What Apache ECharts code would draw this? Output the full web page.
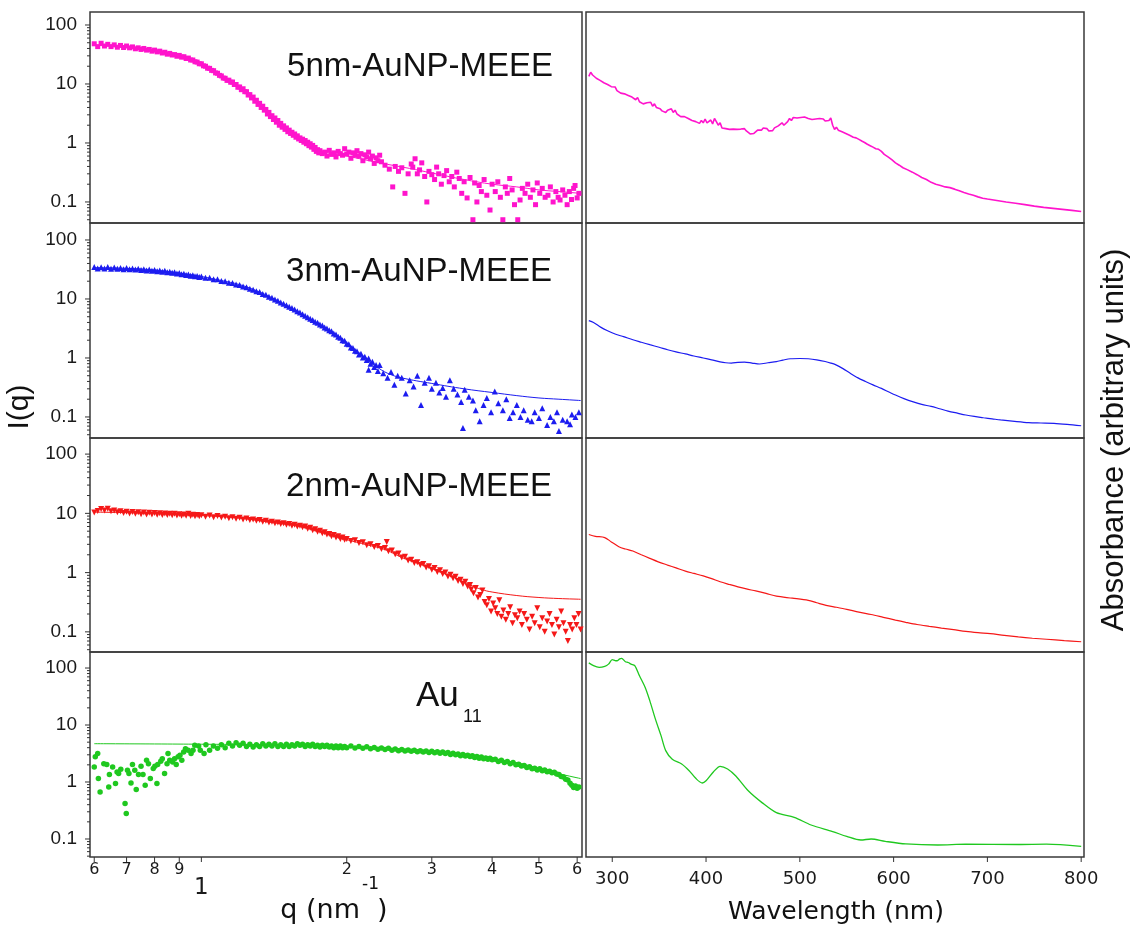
<!DOCTYPE html>
<html><head><meta charset="utf-8">
<script src="https://cdn.jsdelivr.net/npm/echarts@6/dist/echarts.min.js"></script>
<style>html,body{margin:0;padding:0;background:#fff;}#c{width:1130px;height:930px;}</style>
</head><body><div id="c"></div>
<script>
// ---------------- DATA ----------------
const panelTitles = ['5nm-AuNP-MEEE', '3nm-AuNP-MEEE', '2nm-AuNP-MEEE', 'Au'];
const au11Sub = '11';
const yMajorTicks = [0.1, 1, 10, 100];
const yTickLabels = ['0.1', '1', '10', '100'];
const yMinorTicks = [0.05,0.06,0.07,0.08,0.09,0.2,0.3,0.4,0.5,0.6,0.7,0.8,0.9,2,3,4,5,6,7,8,9,20,30,40,50,60,70,80,90];
const qTicks = [0.6, 0.7, 0.8, 0.9, 1, 2, 3, 4, 5, 6];
const qTickLabels = ['6', '7', '8', '9', '', '2', '3', '4', '5', '6'];
const qDecadeLabel = '1';
const wlTicks = [300, 400, 500, 600, 700, 800];
const wlTickLabels = ['300', '400', '500', '600', '700', '800'];
const xNameLeft = 'q (nm', xNameLeftSup = '-1', xNameLeftEnd = ')';
const xNameRight = 'Wavelength (nm)';
const yNameLeft = 'I(q)';
const yNameRight = 'Absorbance (arbitrary units)';

// SAXS 5 nm (q nm^-1, I)
const saxs5nm = [[0.60,48],[0.61,43],[0.62,49],[0.63,44],[0.64,47],[0.65,43],[0.66,46],[0.67,42],[0.68,45],[0.69,41.5],[0.70,44],[0.71,41],[0.72,42.5],[0.73,39.5],[0.74,41],[0.75,38.5],[0.76,40],[0.77,37.5],[0.78,38.5],[0.79,36],[0.80,37.5],[0.81,35],[0.82,36],[0.83,33.5],[0.84,34.5],[0.85,32],[0.86,33],[0.87,31],[0.88,31.5],[0.89,29.5],[0.90,30.5],[0.91,28.5],[0.92,29],[0.93,27],[0.94,27.5],[0.95,25.5],[0.96,25.5],[0.97,23.8],[0.98,23.5],[0.99,22],[1.00,22],[1.01,20.3],[1.02,20],[1.03,18.5],[1.04,18.4],[1.05,17],[1.06,16.8],[1.07,15.4],[1.08,15.2],[1.09,14],[1.10,13.7],[1.11,12.6],[1.12,12.5],[1.13,11.5],[1.14,11.6],[1.15,10.7],[1.16,10.8],[1.17,9.8],[1.18,9.8],[1.19,8.8],[1.20,8.9],[1.21,8.0],[1.22,8.3],[1.23,7.4],[1.24,7.4],[1.25,6.5],[1.26,6.6],[1.27,5.8],[1.28,6.0],[1.29,5.1],[1.30,5.3],[1.31,4.5],[1.32,4.7],[1.33,4.0],[1.34,4.2],[1.35,3.6],[1.36,3.7],[1.37,3.1],[1.38,3.3],[1.39,2.8],[1.40,2.9],[1.41,2.5],[1.42,2.65],[1.43,2.25],[1.44,2.4],[1.45,2.0],[1.46,2.15],[1.47,1.85],[1.48,1.95],[1.49,1.7],[1.50,1.8],[1.51,1.55],[1.52,1.65],[1.53,1.45],[1.54,1.52],[1.55,1.35],[1.56,1.42],[1.57,1.25],[1.58,1.32],[1.59,1.17],[1.60,1.22],[1.61,1.1],[1.62,1.16],[1.63,1.03],[1.64,1.1],[1.65,0.97],[1.66,1.03],[1.67,0.9],[1.68,0.97],[1.69,0.85],[1.70,0.91],[1.71,0.78],[1.72,0.84],[1.73,0.72],[1.74,0.77],[1.75,0.68],[1.76,0.74],
[1.78,0.66],[1.80,0.7],[1.82,0.6],[1.84,0.75],[1.86,0.64],[1.88,0.68],[1.90,0.58],[1.92,0.72],[1.94,0.66],[1.96,0.62],[1.98,0.8],[2.00,0.65],[2.02,0.7],[2.04,0.55],[2.06,0.68],[2.08,0.62],[2.10,0.74],[2.12,0.6],[2.14,0.66],[2.16,0.5],[2.18,0.63],[2.20,0.58],[2.22,0.7],[2.24,0.54],[2.26,0.6],[2.28,0.45],[2.30,0.56],[2.32,0.5],[2.34,0.62],[2.36,0.48],
[2.40,0.42],[2.45,0.36],[2.49,0.18],[2.52,0.4],[2.56,0.33],[2.60,0.38],[2.64,0.14],[2.68,0.3],[2.72,0.44],[2.74,0.39],[2.77,0.54],[2.80,0.3],[2.83,0.35],[2.86,0.46],[2.90,0.27],[2.93,0.1],[2.96,0.33],[3.00,0.29],[3.04,0.24],[3.07,0.39],[3.10,0.3],[3.14,0.2],[3.18,0.28],[3.22,0.34],[3.26,0.22],[3.30,0.27],[3.34,0.18],[3.38,0.32],[3.42,0.25],[3.46,0.14],[3.50,0.22],[3.55,0.117],[3.60,0.26],[3.65,0.05],[3.68,0.21],[3.72,0.1],[3.76,0.19],[3.80,0.15],[3.85,0.24],[3.90,0.13],[3.96,0.073],[4.00,0.2],[4.06,0.15],[4.11,0.22],[4.16,0.12],[4.21,0.05],[4.26,0.18],[4.30,0.14],[4.35,0.25],[4.40,0.16],[4.45,0.09],[4.52,0.05],[4.57,0.108],[4.62,0.17],[4.68,0.14],[4.74,0.2],[4.80,0.12],[4.86,0.16],[4.92,0.09],[4.96,0.21],[5.02,0.14],[5.08,0.17],[5.15,0.12],[5.22,0.13],[5.28,0.18],[5.35,0.1],[5.42,0.15],[5.48,0.12],[5.53,0.108],[5.60,0.16],[5.66,0.13],[5.72,0.09],[5.78,0.15],[5.84,0.11],[5.90,0.17],[5.94,0.19],[6.00,0.117],[6.05,0.14]];
const fit5nm = [[0.6,45],[0.7,42.5],[0.8,37],[0.9,30],[1.0,22],[1.1,13.5],[1.2,8.7],[1.3,5.0],[1.4,2.75],[1.5,1.65],[1.6,1.15],[1.7,0.88],[1.8,0.7],[2.0,0.6],[2.34,0.46],[2.7,0.37],[3.0,0.31],[3.5,0.24],[4.0,0.2],[4.5,0.18],[5.0,0.16],[5.5,0.15],[6.1,0.14]];

// SAXS 3 nm
const saxs3nm = [[0.60,35],[0.61,33],[0.62,34.5],[0.63,33],[0.64,35],[0.65,32.5],[0.66,34],[0.67,32.5],[0.68,33.5],[0.69,32],[0.70,33.5],[0.71,32],[0.72,33],[0.73,31.5],[0.74,32.5],[0.75,31],[0.76,32],[0.77,30.5],[0.78,31.5],[0.79,30],[0.80,31],[0.81,29.5],[0.82,30.5],[0.83,29],[0.84,30],[0.85,28.5],[0.86,29],[0.87,27.8],[0.88,28.3],[0.89,27],[0.90,27.5],[0.91,26.3],[0.92,26.8],[0.93,25.6],[0.94,26],[0.95,24.8],[0.96,25.3],[0.97,24.2],[0.98,24.6],[0.99,23.5],[1.00,24],
[1.02,22.8],[1.04,23],[1.06,21.5],[1.08,21.5],[1.10,20.2],[1.12,20],[1.14,18.8],[1.16,18.6],[1.18,17.6],[1.20,17.3],[1.22,16.2],[1.24,15.8],[1.26,14.9],[1.28,14.4],[1.30,13.5],[1.32,13.1],[1.34,12.2],[1.36,11.8],[1.38,10.9],[1.40,10.5],[1.42,9.8],[1.44,9.3],[1.46,8.7],[1.48,8.3],[1.50,7.8],[1.52,7.4],[1.54,7.0],[1.56,6.6],[1.58,6.2],[1.60,5.9],[1.62,5.5],[1.64,5.2],[1.66,4.9],[1.68,4.6],[1.70,4.4],[1.72,4.1],[1.74,3.95],[1.76,3.7],[1.78,3.55],[1.80,3.3],[1.82,3.15],[1.84,2.95],[1.86,2.85],[1.88,2.6],[1.90,2.5],[1.92,2.3],[1.94,2.2],[1.96,2.0],[1.98,1.95],[2.00,1.75],[2.02,1.7],[2.04,1.5],[2.06,1.48],[2.08,1.32],[2.10,1.3],[2.12,1.15],[2.14,1.18],[2.16,1.02],[2.18,1.05],[2.20,0.92],[2.22,0.98],[2.24,0.8],[2.26,0.86],[2.28,0.7],[2.30,0.76],
[2.22,0.63],[2.32,0.6],[2.34,0.76],[2.38,0.55],[2.43,0.46],[2.47,0.58],[2.51,0.35],[2.55,0.5],[2.60,0.46],[2.65,0.25],[2.70,0.42],[2.75,0.33],[2.80,0.5],[2.85,0.16],[2.90,0.38],[2.96,0.46],[3.00,0.3],[3.06,0.38],[3.11,0.26],[3.16,0.31],[3.21,0.22],[3.27,0.42],[3.33,0.3],[3.39,0.24],[3.45,0.18],[3.48,0.065],[3.51,0.29],[3.58,0.22],[3.65,0.19],[3.70,0.13],[3.77,0.085],[3.84,0.16],[3.90,0.21],[3.98,0.12],[4.05,0.27],[4.12,0.17],[4.21,0.13],[4.28,0.2],[4.35,0.096],[4.42,0.12],[4.50,0.16],[4.58,0.1],[4.65,0.13],[4.74,0.09],[4.83,0.085],[4.90,0.12],[5.00,0.096],[5.08,0.14],[5.20,0.073],[5.28,0.1],[5.37,0.085],[5.45,0.12],[5.50,0.058],[5.60,0.09],[5.72,0.085],[5.80,0.075],[5.85,0.11],[5.95,0.1],[6.05,0.12]];
const fit3nm = [[0.6,34],[0.7,33],[0.8,31],[0.9,27.5],[1.0,24],[1.1,20.5],[1.2,17.5],[1.3,13.8],[1.4,10.5],[1.5,7.8],[1.6,5.8],[1.7,4.3],[1.8,3.3],[1.9,2.5],[2.0,1.8],[2.1,1.3],[2.2,0.95],[2.3,0.72],[2.43,0.55],[2.6,0.46],[3.0,0.37],[3.5,0.3],[4.0,0.26],[4.5,0.23],[5.0,0.21],[5.5,0.2],[6.1,0.19]];

// SAXS 2 nm
const saxs2nm = [[0.60,10.3],[0.61,11.0],[0.62,11.8],[0.63,11.2],[0.64,12.0],[0.65,10.8],[0.66,11.2],[0.67,10.4],[0.68,10.9],[0.69,10.1],[0.70,10.6],[0.71,9.9],[0.72,10.5],[0.73,9.8],[0.74,10.4],[0.75,9.7],[0.76,10.3],[0.77,9.6],[0.78,10.2],[0.79,9.6],[0.80,10.1],[0.81,9.5],[0.82,10.0],[0.83,9.4],[0.84,9.9],[0.85,9.4],[0.86,9.8],[0.87,9.3],[0.88,9.8],[0.89,9.2],[0.90,9.7],[0.91,9.1],[0.92,9.6],[0.93,9.1],[0.94,9.8],[0.95,9.0],[0.96,9.5],[0.97,8.9],[0.98,9.4],[0.99,8.9],[1.00,9.3],
[1.02,8.8],[1.04,9.2],[1.06,8.6],[1.08,9.0],[1.10,8.5],[1.12,8.8],[1.14,8.3],[1.16,8.6],[1.18,8.1],[1.20,8.4],[1.22,7.9],[1.24,8.2],[1.26,7.7],[1.28,7.9],[1.30,7.5],[1.32,7.7],[1.34,7.2],[1.36,7.5],[1.38,7.0],[1.40,7.2],[1.42,6.8],[1.44,7.0],[1.46,6.6],[1.48,6.8],[1.50,6.4],[1.52,6.6],[1.54,6.2],[1.56,6.4],[1.58,6.0],[1.60,6.2],[1.62,5.8],[1.64,6.0],[1.66,5.5],[1.68,5.7],[1.70,5.2],[1.72,5.4],[1.74,4.9],[1.76,5.1],[1.78,4.6],[1.80,4.8],[1.82,4.4],[1.84,4.5],[1.86,4.1],[1.88,4.3],[1.90,3.9],[1.92,4.1],[1.94,3.7],[1.96,3.9],[1.98,3.6],[2.00,3.7],
[2.04,3.4],[2.08,3.5],[2.12,3.15],[2.16,3.25],[2.20,2.9],[2.24,3.0],[2.28,2.7],[2.32,2.8],[2.36,2.5],[2.40,2.6],[2.42,3.3],[2.44,2.3],[2.48,2.35],[2.52,2.05],[2.56,2.1],[2.60,1.8],[2.64,1.85],[2.68,1.6],[2.72,1.65],[2.76,1.45],[2.80,1.5],[2.84,1.35],[2.88,1.4],[2.92,1.22],[2.96,1.28],[3.00,1.12],[3.04,1.2],[3.08,1.02],[3.12,1.1],[3.16,0.95],[3.20,1.0],[3.24,0.86],[3.28,0.92],[3.32,0.8],[3.36,0.85],[3.40,0.72],[3.44,0.76],[3.48,0.64],[3.52,0.7],[3.56,0.58],[3.60,0.62],
[3.62,0.52],[3.66,0.45],[3.70,0.55],[3.74,0.38],[3.78,0.42],[3.82,0.5],[3.86,0.32],[3.90,0.28],[3.94,0.36],[3.98,0.22],[4.02,0.3],[4.06,0.25],[4.10,0.2],[4.14,0.34],[4.18,0.18],[4.22,0.23],[4.27,0.16],[4.32,0.2],[4.36,0.26],[4.41,0.14],[4.46,0.19],[4.51,0.17],[4.56,0.22],[4.61,0.13],[4.66,0.2],[4.72,0.16],[4.78,0.11],[4.84,0.18],[4.90,0.14],[4.96,0.25],[5.02,0.12],[5.08,0.17],[5.14,0.1],[5.20,0.15],[5.26,0.2],[5.32,0.13],[5.38,0.09],[5.44,0.16],[5.50,0.12],[5.56,0.22],[5.62,0.14],[5.68,0.1],[5.74,0.07],[5.80,0.13],[5.86,0.11],[5.92,0.17],[5.98,0.13],[6.04,0.2],[6.10,0.11]];
const fit2nm = [[0.6,10.5],[0.8,10],[1.0,9.2],[1.2,8.3],[1.4,7.0],[1.6,6.0],[1.8,4.6],[2.0,3.6],[2.2,2.95],[2.4,2.45],[2.6,1.8],[2.8,1.45],[3.0,1.17],[3.2,0.95],[3.4,0.78],[3.6,0.62],[3.8,0.52],[4.0,0.47],[4.5,0.41],[5.0,0.38],[5.5,0.365],[6.1,0.355]];

// SAXS Au11
const saxsAu11 = [[0.60,1.84],[0.603,2.76],[0.61,3.15],[0.612,1.15],[0.617,0.67],[0.628,2.10],[0.637,2.02],[0.643,0.82],[0.645,1.35],[0.655,1.84],[0.664,0.94],[0.669,1.50],[0.674,1.41],[0.681,1.68],[0.695,0.42],[0.699,0.28],[0.703,1.61],[0.708,1.41],[0.715,0.96],[0.720,2.02],[0.728,1.61],[0.733,0.74],[0.741,1.35],[0.750,1.89],[0.757,1.35],[0.765,0.88],[0.770,2.41],[0.777,2.10],[0.784,1.15],[0.795,1.72],[0.801,1.89],[0.809,0.94],[0.812,2.02],[0.824,2.32],[0.830,2.57],[0.839,1.41],[0.849,2.10],[0.853,3.15],[0.860,2.41],[0.872,2.25],[0.880,2.57],[0.887,2.02],[0.895,2.76],[0.903,2.95],[0.911,2.41],[0.919,3.37],[0.927,3.85],[0.939,3.61],[0.952,3.15],[0.961,3.61],[0.969,4.40],[0.987,4.29],[0.995,3.61],[1.013,3.15],[1.022,4.52],[1.040,3.61],[1.059,4.29],
[1.08,3.9],[1.10,4.5],[1.12,4.0],[1.14,4.8],[1.16,4.3],[1.18,4.9],[1.20,4.4],[1.22,4.8],[1.24,4.2],[1.26,4.6],[1.28,4.1],[1.30,4.5],[1.32,4.2],[1.34,4.7],[1.36,4.3],[1.38,4.6],[1.40,4.3],[1.42,4.7],[1.44,4.2],[1.46,4.5],[1.48,4.2],[1.50,4.6],[1.52,4.2],[1.54,4.5],[1.56,4.3],[1.58,4.7],[1.60,4.4],[1.62,4.6],[1.64,4.2],[1.66,4.5],[1.68,4.3],[1.70,4.6],[1.72,4.2],[1.74,4.4],[1.76,4.1],[1.78,4.4],[1.80,4.2],[1.82,4.4],[1.84,4.1],[1.86,4.3],[1.88,4.0],[1.90,4.3],[1.92,4.0],[1.94,4.3],[1.96,4.0],[1.98,4.2],[2.00,4.0],[2.04,4.3],[2.08,3.95],[2.12,4.2],[2.16,3.9],[2.20,4.15],[2.24,3.85],[2.28,4.05],[2.32,3.75],[2.36,3.95],[2.40,3.7],[2.44,3.9],[2.48,3.6],[2.52,3.8],[2.56,3.55],[2.60,3.7],[2.64,3.5],[2.68,3.65],[2.72,3.45],[2.76,3.6],[2.80,3.4],[2.84,3.55],[2.88,3.35],[2.92,3.5],[2.96,3.3],[3.00,3.45],[3.04,3.25],[3.08,3.4],[3.12,3.2],[3.16,3.35],[3.20,3.15],[3.24,3.3],[3.28,3.05],[3.32,3.2],[3.36,3.0],[3.40,3.1],[3.44,2.9],[3.48,3.05],[3.52,2.85],[3.56,2.95],[3.60,2.8],[3.64,2.9],[3.68,2.7],[3.72,2.8],[3.76,2.6],[3.80,2.75],[3.84,2.55],[3.88,2.65],[3.92,2.5],[3.96,2.6],[4.00,2.45],[4.06,2.5],[4.12,2.3],[4.18,2.4],[4.24,2.2],[4.30,2.3],[4.36,2.1],[4.42,2.2],[4.48,2.0],[4.54,2.05],[4.60,1.9],[4.66,1.95],[4.72,1.8],[4.78,1.85],[4.84,1.7],[4.90,1.75],[4.96,1.62],[5.02,1.7],[5.08,1.58],[5.14,1.62],[5.20,1.52],[5.26,1.55],[5.32,1.45],[5.38,1.48],[5.44,1.38],[5.50,1.35],[5.56,1.25],[5.62,1.22],[5.68,1.12],[5.74,1.08],[5.80,0.95],[5.85,0.88],[5.90,0.8],[5.95,0.85],[6.00,0.78],[6.05,0.82]];
const fitAu11 = [[0.6,4.7],[0.8,4.65],[1.0,4.6],[1.2,4.55],[1.5,4.45],[2.0,4.2],[2.5,3.85],[3.0,3.45],[3.5,3.05],[4.0,2.6],[4.5,2.15],[5.0,1.75],[5.5,1.4],[6.1,1.15]];

// UV-vis (wavelength nm, absorbance a.u.)
const uv5nm = [[275,13.5],[277,15.8],[279,14.2],[281,15],[283,12.5],[285,13.2],[287,11.5],[289,11.8],[291,10.5],[293,10.9],[295,9.8],[297,9.9],[299,9.0],[301,8.6],[303,8.9],[305,7.7],[307,8.2],[309,7.0],[311,7.4],[313,6.8],[315,7.1],[317,6.4],[319,6.6],[321,6.0],[323,6.3],[325,5.4],[327,5.9],[329,5.0],[331,5.3],[333,4.6],[335,4.3],[337,4.8],[339,4.5],[341,4.9],[343,4.2],[345,4.6],[347,4.0],[349,4.3],[351,3.8],[353,3.5],[355,3.7],[357,3.3],[359,3.6],[361,3.4],[363,3.8],[365,3.3],[367,3.6],[369,3.1],[371,3.2],[373,2.8],[375,3.0],[377,2.8],[379,2.9],[381,2.6],[383,2.7],[385,2.4],[387,2.5],[389,2.3],[391,2.35],[393,2.15],[395,2.4],[397,2.2],[399,2.55],[401,2.2],[403,2.35],[405,2.45],[407,2.1],[409,2.6],[411,2.3],[413,2.0],[415,2.2],[417,1.8],[419,1.9],[421,1.75],[423,1.8],[425,1.7],[427,1.78],[429,1.72],[431,1.65],[433,1.7],[435,1.6],[437,1.72],[439,1.65],[441,1.75],[443,1.6],[445,1.5],[447,1.42],[449,1.35],[451,1.45],[453,1.55],[455,1.65],[457,1.75],[459,1.65],[461,1.8],[463,1.7],[465,1.75],[467,1.6],[469,1.72],[471,1.62],[473,1.8],[475,1.75],[477,1.95],[479,1.85],[481,2.2],[483,2.0],[485,1.85],[487,2.3],[489,2.6],[491,2.4],[493,2.7],[495,2.5],[497,2.65],[499,2.55],[501,2.7],[503,2.6],[505,2.75],[507,2.55],[509,2.6],[511,2.45],[513,2.5],[515,2.35],[517,2.55],[519,2.4],[521,2.6],[523,2.45],[525,2.55],[527,2.35],[529,2.5],[531,2.4],[533,2.65],[535,2.0],[537,1.7],[539,1.85],[541,1.65],[543,1.75],[545,1.55],[547,1.65],[549,1.45],[551,1.5],[553,1.35],[555,1.4],[557,1.25],[560,1.22],[563,1.15],[566,1.08],[569,1.02],[572,0.95],[575,0.9],[578,0.85],[581,0.8],[584,0.78],[587,0.72],[590,0.64],[594,0.58],[598,0.52],[602,0.46],[606,0.42],[610,0.38],[615,0.35],[620,0.32],[625,0.29],[630,0.26],[635,0.24],[640,0.215],[645,0.2],[650,0.19],[655,0.18],[660,0.175],[665,0.165],[670,0.155],[675,0.145],[680,0.137],[685,0.13],[690,0.122],[695,0.116],[700,0.112],[710,0.106],[720,0.1],[730,0.095],[740,0.09],[750,0.085],[760,0.081],[770,0.078],[780,0.075],[790,0.072],[800,0.069]];
const uv3nm = [[275,4.3],[280,4.0],[288,3.3],[295,2.9],[303,2.55],[312,2.3],[322,2.04],[331,1.85],[340,1.68],[350,1.52],[359,1.38],[368,1.27],[378,1.17],[387,1.08],[397,1.0],[406,0.93],[415,0.86],[421,0.83],[427,0.82],[434,0.84],[441,0.85],[449,0.82],[457,0.79],[466,0.83],[475,0.87],[482,0.92],[490,0.97],[500,0.98],[509,0.97],[518,0.93],[527,0.87],[533,0.82],[538,0.77],[546,0.66],[553,0.56],[562,0.46],[570,0.4],[578,0.35],[587,0.305],[595,0.265],[602,0.235],[611,0.205],[621,0.18],[630,0.163],[640,0.151],[649,0.138],[658,0.126],[668,0.116],[677,0.108],[686,0.102],[696,0.097],[705,0.093],[714,0.089],[729,0.084],[744,0.08],[757,0.079],[771,0.078],[785,0.075],[800,0.071]];
const uv2nm = [[275,4.4],[282,4.1],[292,3.9],[299,3.3],[307,2.74],[314,2.5],[322,2.31],[331,2.0],[340,1.74],[349,1.52],[359,1.34],[368,1.2],[378,1.06],[387,0.97],[397,0.88],[406,0.79],[415,0.70],[425,0.63],[434,0.575],[443,0.53],[453,0.49],[464,0.445],[475,0.40],[492,0.37],[509,0.34],[518,0.31],[528,0.28],[539,0.26],[550,0.24],[563,0.215],[576,0.196],[589,0.176],[602,0.158],[613,0.145],[625,0.133],[638,0.124],[651,0.116],[664,0.109],[677,0.102],[690,0.097],[703,0.093],[718,0.087],[733,0.082],[748,0.078],[763,0.075],[782,0.071],[800,0.068]];
const uvAu11 = [[275,123],[280,110],[286,103],[292,107],[296,117],[300,140],[303,135],[305,134],[308,145],[310,148],[314,129],[317,125],[320,117],[324,110],[329,73],[335,46],[340,26.8],[346,12.7],[352,6.5],[357,3.55],[364,2.5],[374,2.07],[382,1.58],[389,1.16],[396,0.96],[400,1.05],[408,1.51],[415,1.88],[423,1.69],[432,1.26],[445,0.70],[460,0.43],[475,0.29],[494,0.24],[512,0.176],[535,0.135],[550,0.111],[565,0.096],[576,0.1],[591,0.091],[613,0.082],[647,0.0785],[677,0.081],[733,0.08],[763,0.081],[800,0.0745]];

// ---------------- LAYOUT / STYLE ----------------
const MAG = '#ff14cc', BLU = '#1c1cf0', RED = '#f51818', GRN = '#1fc81f';
const TOPS = [12, 223, 438, 652], HS = [211, 215, 214, 205];
const Y_RANGES = [[0.044, 166], [0.044, 194], [0.0457, 187], [0.0483, 191]];
const Q_RANGE = [0.588, 6.14], WL_RANGE = [272, 803];
const LEFT = {left: 90, width: 492}, RIGHT = {left: 586, width: 498};
const AX = '#333';

const PANELS = [
  {saxs: saxs5nm, fit: fit5nm, uv: uv5nm, color: MAG, symbol: 'rect', size: 5, rot: 0, smooth: false, uvW: 1.6},
  {saxs: saxs3nm, fit: fit3nm, uv: uv3nm, color: BLU, symbol: 'triangle', size: 6, rot: 0, smooth: 0.3, uvW: 1.2},
  {saxs: saxs2nm, fit: fit2nm, uv: uv2nm, color: RED, symbol: 'triangle', size: 6, rot: 180, smooth: 0.3, uvW: 1.2},
  {saxs: saxsAu11, fit: fitAu11, uv: uvAu11, color: GRN, symbol: 'circle', size: 5.5, rot: 0, smooth: 0.3, uvW: 1.3}
];

function fmtY(v) {
  const lg = Math.log10(v), r = Math.round(lg);
  if (Math.abs(lg - r) > 1e-6) return '';
  const k = yMajorTicks.findIndex(t => Math.abs(Math.log10(t) - r) < 1e-6);
  return k >= 0 ? yTickLabels[k] : '';
}

const grids = [], xAxes = [], yAxes = [], series = [];
const hidden = {axisLine: {show: false}, axisTick: {show: false}, splitLine: {show: false}, axisLabel: {show: false}};
PANELS.forEach((p, i) => {
  grids.push({left: LEFT.left, width: LEFT.width, top: TOPS[i], height: HS[i], show: true, borderColor: '#3a3a3a', borderWidth: 1.5});
  xAxes.push(Object.assign({type: 'log', logBase: 10, gridIndex: i, min: Q_RANGE[0], max: Q_RANGE[1]}, hidden));
  yAxes.push({type: 'log', logBase: 10, gridIndex: i, min: Y_RANGES[i][0], max: Y_RANGES[i][1],
    axisLine: {show: false}, axisTick: {show: false}, splitLine: {show: false},
    axisLabel: {show: true, margin: 13, fontFamily: '"Liberation Sans", Arial, sans-serif', fontSize: 19, color: '#1a1a1a', formatter: fmtY}});
});
PANELS.forEach((p, i) => {
  grids.push({left: RIGHT.left, width: RIGHT.width, top: TOPS[i], height: HS[i], show: true, borderColor: '#3a3a3a', borderWidth: 1.5});
  xAxes.push(Object.assign({type: 'value', gridIndex: 4 + i, min: WL_RANGE[0], max: WL_RANGE[1]}, hidden));
  yAxes.push(Object.assign({type: 'log', logBase: 10, gridIndex: 4 + i, min: Y_RANGES[i][0], max: Y_RANGES[i][1]}, hidden));
});

PANELS.forEach((p, i) => {
  series.push({type: 'scatter', xAxisIndex: i, yAxisIndex: i, data: p.saxs, symbol: p.symbol, symbolSize: p.size,
    symbolRotate: p.rot, itemStyle: {color: p.color, opacity: 1}, silent: true, z: 2});
  series.push({type: 'line', xAxisIndex: i, yAxisIndex: i, data: p.fit, showSymbol: false, smooth: 0.4,
    lineStyle: {color: p.color, width: 1}, silent: true, z: 3});
  series.push({type: 'line', xAxisIndex: 4 + i, yAxisIndex: 4 + i, data: p.uv, showSymbol: false, smooth: p.smooth,
    lineStyle: {color: p.color, width: p.uvW}, silent: true, z: 3});
  const yr = Y_RANGES[i];
  const tickData = yMajorTicks.filter(v => v >= yr[0] && v <= yr[1]).map(v => [1, v, 1])
    .concat(yMinorTicks.filter(v => v >= yr[0] && v <= yr[1]).map(v => [1, v, 0]));
  series.push({type: 'custom', xAxisIndex: i, yAxisIndex: i, silent: true, clip: false, z: 5, data: tickData,
    renderItem: (params, api) => {
      const cs = params.coordSys;
      const y = api.coord([1, api.value(1)])[1];
      const len = api.value(2) ? 5 : 3;
      return {type: 'line', shape: {x1: cs.x - len, y1: y, x2: cs.x, y2: y}, style: {stroke: AX, lineWidth: 1}};
    }});
});
series.push({type: 'custom', xAxisIndex: 3, yAxisIndex: 3, silent: true, clip: false, z: 5,
  data: qTicks.map((q, k) => [q, 1, k]),
  renderItem: (params, api) => {
    const cs = params.coordSys;
    const x = api.coord([api.value(0), 1])[0];
    const yb = cs.y + cs.height;
    const k = api.value(2);
    const ch = [
      {type: 'line', shape: {x1: x, y1: yb, x2: x, y2: yb + 5}, style: {stroke: AX, lineWidth: 1}},
      {type: 'text', x: x, y: yb + 13, style: {text: qTickLabels[k], font: '16px "DejaVu Sans"', fill: '#1a1a1a', align: 'center', verticalAlign: 'middle', textAlign: 'center', textVerticalAlign: 'middle'}}
    ];
    if (qTicks[k] === 1) ch.push({type: 'text', x: x, y: yb + 31, style: {text: qDecadeLabel, font: '23px "DejaVu Sans"', fill: '#1a1a1a', align: 'center', verticalAlign: 'middle', textAlign: 'center', textVerticalAlign: 'middle'}});
    return {type: 'group', children: ch};
  }});
series.push({type: 'custom', xAxisIndex: 7, yAxisIndex: 7, silent: true, clip: false, z: 5,
  data: wlTicks.map((w, k) => [w, 1, k]),
  renderItem: (params, api) => {
    const cs = params.coordSys;
    const x = api.coord([api.value(0), 1])[0];
    const yb = cs.y + cs.height;
    const k = api.value(2);
    return {type: 'group', children: [
      {type: 'line', shape: {x1: x, y1: yb, x2: x, y2: yb + 5}, style: {stroke: AX, lineWidth: 1}},
      {type: 'text', x: x, y: yb + 22, style: {text: wlTickLabels[k], font: '18px "DejaVu Sans"', fill: '#1a1a1a', align: 'center', verticalAlign: 'middle', textAlign: 'center', textVerticalAlign: 'middle'}}
    ]};
  }});

function txt(text, x, y, font, align, extra) {
  return Object.assign({type: 'text', x: x, y: y, z: 100, silent: true,
    style: {text: text, font: font, fill: '#111', align: align || 'center', verticalAlign: 'middle', textAlign: align || 'center', textVerticalAlign: 'middle'}}, extra || {});
}
const SANS = '"Liberation Sans", Arial, sans-serif';
const graphic = [
  txt(panelTitles[0], 553, 67, '33px ' + SANS, 'right'),
  txt(panelTitles[1], 552, 272, '33px ' + SANS, 'right'),
  txt(panelTitles[2], 552, 487, '33px ' + SANS, 'right'),
  txt(panelTitles[3], 416, 696, '35px ' + SANS, 'left'),
  txt(au11Sub, 463, 717, '18px ' + SANS, 'left'),
  txt(xNameLeft, 360, 911, '27px "DejaVu Sans"', 'right'),
  txt(xNameLeftSup, 362, 885, '17px "DejaVu Sans"', 'left'),
  txt(xNameLeftEnd, 377, 911, '27px "DejaVu Sans"', 'left'),
  txt(xNameRight, 836, 912, '25px "DejaVu Sans"', 'center'),
  txt(yNameLeft, 20, 407, '30px ' + SANS, 'center', {rotation: Math.PI / 2}),
  txt(yNameRight, 1114, 440, '31px ' + SANS, 'center', {rotation: Math.PI / 2})
];

const chart = echarts.init(document.getElementById('c'), null, {renderer: 'canvas', width: 1130, height: 930});
chart.setOption({
  animation: false,
  backgroundColor: '#ffffff',
  grid: grids, xAxis: xAxes, yAxis: yAxes, series: series, graphic: graphic
});
</script></body></html>
